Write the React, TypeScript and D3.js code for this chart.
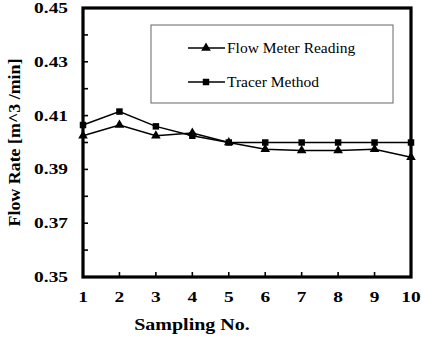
import React from "react";
import * as d3 from "d3";

// sampling numbers on the x axis
const samples = [1, 2, 3, 4, 5, 6, 7, 8, 9, 10];
// flow meter reading (triangles)
const flowMeter = [0.4025, 0.4065, 0.4025, 0.4035, 0.4, 0.3975, 0.397, 0.397, 0.3975, 0.3945];
// tracer method (squares)
const tracer = [0.4065, 0.4115, 0.406, 0.4025, 0.4, 0.4, 0.4, 0.4, 0.4, 0.4];
const yTicks = [0.35, 0.37, 0.39, 0.41, 0.43, 0.45];
const yMinor = d3.range(0.35, 0.4501, 0.01);

const W = 422;
const H = 351;
const margin = {top: 8, bottom: 74, left: 83, right: 11};
const font = "Liberation Serif, serif";

export default function App() {
    const x = d3.scaleLinear().domain([1, 10]).range([margin.left, W - margin.right]);
    const y = d3.scaleLinear().domain([0.35, 0.45]).range([H - margin.bottom, margin.top]);

    const line = d3.line<number>()
        .x((d, i) => x(samples[i]))
        .y((d) => y(d));

    const tri = d3.symbol().type(d3.symbolTriangle).size(40)();
    const sq = d3.symbol().type(d3.symbolSquare).size(42)();

    const x0 = margin.left, x1 = W - margin.right, y0 = margin.top, y1 = H - margin.bottom;
    const sx = 1.25; // labels in the picture are stretched sideways

    return (
        <svg width={W} height={H} style={{position: "absolute", left: 0, top: 0, background: "#fff"}}>
            {/* minor ticks on y, pointing inward */}
            {yMinor.map((v, i) => (
                <line key={"ym" + i} x1={x0} x2={x0 + 5} y1={y(v)} y2={y(v)} stroke="#000" strokeWidth={1.6} />
            ))}
            {samples.map((s) => (
                <line key={"xt" + s} x1={x(s)} x2={x(s)} y1={y1} y2={y1 - 5} stroke="#000" strokeWidth={1.6} />
            ))}

            {/* y tick labels */}
            {yTicks.map((v) => (
                <text key={"yl" + v} transform={`translate(${x0 - 15},${y(v) + 5}) scale(${sx},1)`}
                      textAnchor="end" fontFamily={font} fontWeight="bold" fontSize={15.5}>
                    {v.toFixed(2)}
                </text>
            ))}
            {/* x tick labels */}
            {samples.map((s) => (
                <text key={"xl" + s} transform={`translate(${x(s)},${y1 + 25}) scale(${sx},1)`}
                      textAnchor="middle" fontFamily={font} fontWeight="bold" fontSize={15.5}>
                    {s}
                </text>
            ))}

            {/* axis titles */}
            <text transform={`translate(192,${H - 21}) scale(${sx},1)`} textAnchor="middle"
                  fontFamily={font} fontWeight="bold" fontSize={16}>Sampling No.</text>
            <text transform={`translate(20,${(y0 + y1) / 2}) rotate(-90) scale(1.12,1)`} textAnchor="middle"
                  fontFamily={font} fontWeight="bold" fontSize={16}>Flow Rate [m^3 /min]</text>

            {/* series */}
            <path d={line(flowMeter) || ""} fill="none" stroke="#000" strokeWidth={1.5} />
            <path d={line(tracer) || ""} fill="none" stroke="#000" strokeWidth={1.5} />
            {flowMeter.map((v, i) => (
                <path key={"fm" + i} d={tri} transform={`translate(${x(samples[i])},${y(v)})`} fill="#000" />
            ))}
            {tracer.map((v, i) => (
                <path key={"tr" + i} d={sq} transform={`translate(${x(samples[i])},${y(v)})`} fill="#000" />
            ))}

            {/* legend */}
            <rect x={151} y={25} width={242} height={78} fill="#fff" stroke="#666" strokeWidth={1} />
            <line x1={188} x2={225} y1={48} y2={48} stroke="#000" strokeWidth={1.5} />
            <path d={tri} transform="translate(206,48)" fill="#000" />
            <text x={227} y={53} fontFamily={font} fontSize={15.5}>Flow Meter Reading</text>
            <line x1={188} x2={225} y1={82} y2={82} stroke="#000" strokeWidth={1.5} />
            <path d={sq} transform="translate(206,82)" fill="#000" />
            <text x={227} y={87} fontFamily={font} fontSize={15.5}>Tracer Method</text>

            {/* frame */}
            <rect x={x0} y={y0} width={x1 - x0} height={y1 - y0} fill="none" stroke="#000" strokeWidth={3.2} />
        </svg>
    );
}
